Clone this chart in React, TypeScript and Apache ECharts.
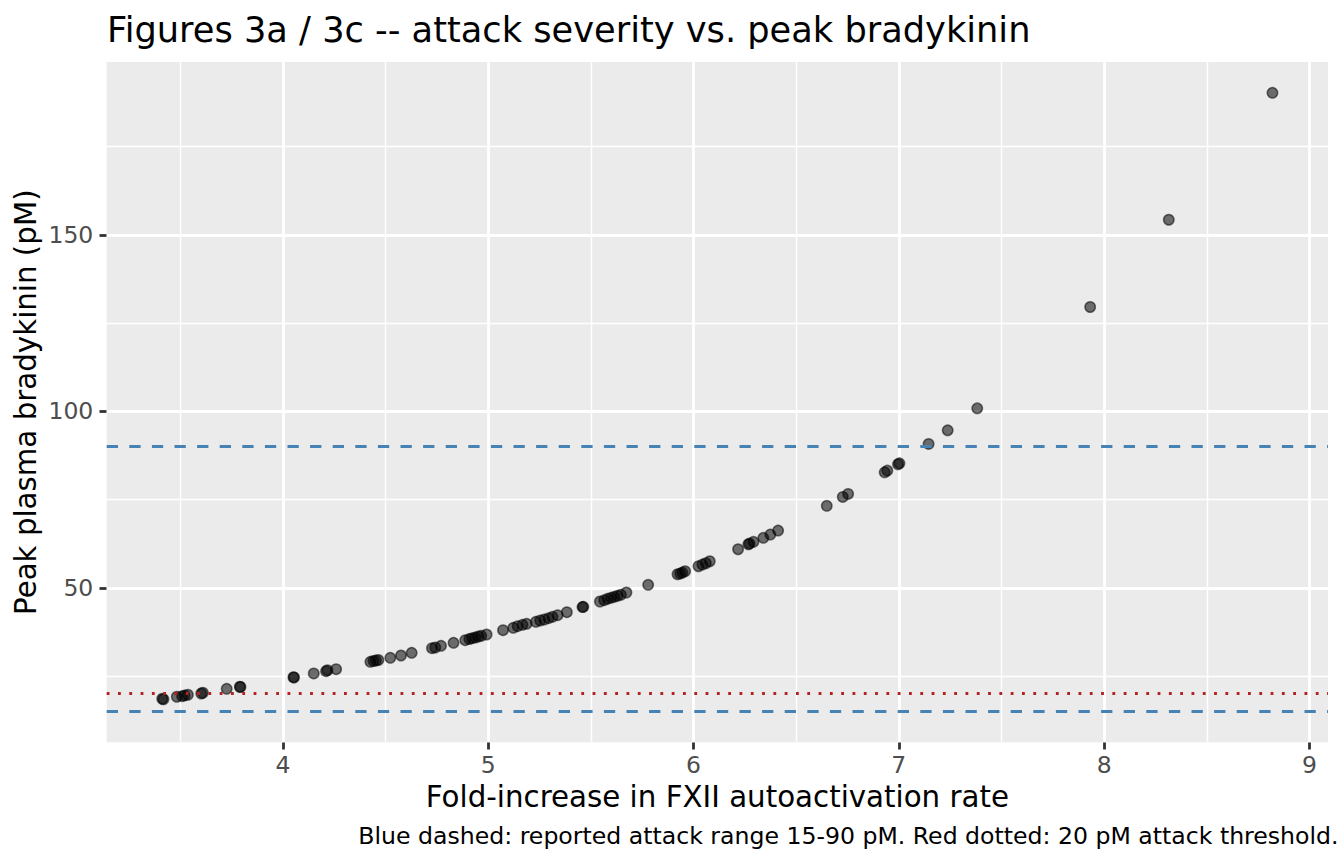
import React, { useEffect, useRef } from "react";
import * as echarts from "echarts";

// Fold-increase in FXII autoactivation rate (x) and peak plasma bradykinin in pM (y)
const foldIncrease = [
  3.412, 3.418, 3.483, 3.509, 3.521, 3.537, 3.602, 3.61, 3.726, 3.79, 3.793,
  4.051, 4.054, 4.15, 4.21, 4.217, 4.259, 4.426, 4.441, 4.453, 4.465, 4.523,
  4.575, 4.627, 4.726, 4.742, 4.77, 4.831, 4.888, 4.908, 4.922, 4.937, 4.952,
  4.966, 4.992, 5.072, 5.122, 5.143, 5.167, 5.187, 5.232, 5.253, 5.273, 5.294,
  5.313, 5.338, 5.383, 5.459, 5.463, 5.544, 5.565, 5.581, 5.598, 5.614, 5.63,
  5.646, 5.673, 5.779, 5.922, 5.935, 5.946, 5.959, 6.024, 6.043, 6.06, 6.079,
  6.217, 6.267, 6.273, 6.292, 6.34, 6.374, 6.412, 6.649, 6.727, 6.753, 6.931,
  6.944, 6.996, 7.003, 7.145, 7.238, 7.382, 7.932, 8.315, 8.82,
];
const peakBradykinin = [
  18.57, 18.43, 19.14, 19.31, 19.51, 19.71, 20.07, 20.27, 21.4, 21.97, 21.91,
  24.69, 24.6, 25.74, 26.39, 26.67, 26.95, 29.05, 29.27, 29.42, 29.56, 30.18,
  30.83, 31.6, 32.9, 33.1, 33.58, 34.43, 35.16, 35.5, 35.73, 35.93, 36.21,
  36.41, 36.78, 38.0, 38.67, 39.13, 39.53, 39.81, 40.37, 40.74, 41.02, 41.39,
  41.79, 42.24, 43.09, 44.56, 44.62, 46.12, 46.49, 46.89, 47.17, 47.45, 47.74,
  48.02, 48.67, 50.85, 53.85, 54.05, 54.33, 54.7, 56.12, 56.6, 56.96, 57.53,
  60.93, 62.34, 62.54, 63.02, 64.16, 65.09, 66.22, 73.22, 75.76, 76.61, 82.73,
  83.21, 85.0, 85.28, 90.77, 94.62, 100.85, 129.56, 154.27, 190.23,
];

const xMajor = [4, 5, 6, 7, 8, 9];
const xMinor = [3.5, 4.5, 5.5, 6.5, 7.5, 8.5];
const yMajor = [50, 100, 150];
const yMinor = [25, 75, 125, 175];
const attackRange = [15, 90];
const attackThreshold = [20];
const xLimits = [3.1415, 9.0905];
const yLimits = [6.24, 198.96];

const TITLE = "Figures 3a / 3c -- attack severity vs. peak bradykinin";
const X_TITLE = "Fold-increase in FXII autoactivation rate";
const Y_TITLE = "Peak plasma bradykinin (pM)";
const CAPTION =
  "Blue dashed: reported attack range 15-90 pM. Red dotted: 20 pM attack threshold.";

export default function App() {
  const ref = useRef<HTMLDivElement>(null);

  useEffect(() => {
    const chart = echarts.init(ref.current as HTMLDivElement, null, {
      renderer: "svg",
    });
    const font = "DejaVu Sans";
    const points = foldIncrease.map((x, i) => [x, peakBradykinin[i]]);

    const gridData = [
      ...xMinor.map((v) => ({ xAxis: v, lineStyle: { color: "#FFFFFF", width: 1.4, type: "solid" } })),
      ...yMinor.map((v) => ({ yAxis: v, lineStyle: { color: "#FFFFFF", width: 1.4, type: "solid" } })),
      ...xMajor.map((v) => ({ xAxis: v, lineStyle: { color: "#FFFFFF", width: 2.8, type: "solid" } })),
      ...yMajor.map((v) => ({ yAxis: v, lineStyle: { color: "#FFFFFF", width: 2.8, type: "solid" } })),
    ];
    const refData = [
      ...attackThreshold.map((v) => ({
        yAxis: v,
        lineStyle: { color: "#B22222", width: 2.8, type: [2.8, 8.5] },
      })),
      ...attackRange.map((v) => ({
        yAxis: v,
        lineStyle: { color: "#4682B4", width: 2.8, type: [11.3, 11.3] },
      })),
    ];

    const axisCommon = {
      type: "value",
      axisLine: { show: false },
      splitLine: { show: false },
      minorSplitLine: { show: false },
    };

    chart.setOption({
      animation: false,
      backgroundColor: "#FFFFFF",
      grid: {
        left: 106.7,
        right: 16,
        top: 62,
        bottom: 121.7,
        show: true,
        backgroundColor: "#EBEBEB",
        borderWidth: 0,
        containLabel: false,
        outerBoundsMode: "none",
      },
      xAxis: {
        ...axisCommon,
        min: xLimits[0],
        max: xLimits[1],
        axisTick: {
          show: true,
          length: 7.2,
          lineStyle: { color: "#333333", width: 2.8 },
          customValues: xMajor,
        },
        axisLabel: {
          customValues: xMajor,
          margin: 22.6,
          verticalAlign: "middle",
          color: "#4D4D4D",
          fontSize: 23.5,
          fontFamily: font,
          formatter: (v: number) => String(v),
        },
      },
      yAxis: {
        ...axisCommon,
        min: yLimits[0],
        max: yLimits[1],
        axisTick: {
          show: true,
          length: 7.2,
          lineStyle: { color: "#333333", width: 2.8 },
          customValues: yMajor,
        },
        axisLabel: {
          customValues: yMajor,
          margin: 13.4,
          verticalAlign: "middle",
          color: "#4D4D4D",
          fontSize: 23.5,
          fontFamily: font,
          formatter: (v: number) => String(v),
        },
      },
      series: [
        {
          type: "scatter",
          data: [],
          silent: true,
          markLine: {
            silent: true,
            symbol: "none",
            z: 1,
            label: { show: false },
            emphasis: { disabled: true },
            data: gridData,
          },
        },
        {
          type: "scatter",
          z: 3,
          silent: true,
          data: points,
          symbol: "circle",
          symbolSize: 10.4,
          itemStyle: {
            color: "rgba(0,0,0,0.68)",
            borderColor: "rgba(0,0,0,0.68)",
            borderWidth: 1.5,
          },
        },
        {
          type: "scatter",
          data: [],
          silent: true,
          z: 4,
          markLine: {
            silent: true,
            symbol: "none",
            z: 4,
            label: { show: false },
            emphasis: { disabled: true },
            data: refData,
          },
        },
      ],
      graphic: [
        {
          type: "text",
          x: 107,
          y: 29.6,
          style: {
            text: TITLE,
            fontFamily: font,
            fontSize: 35.2,
            fill: "#000000",
            align: "left",
            verticalAlign: "middle",
          },
        },
        {
          type: "text",
          x: 717.4,
          y: 796.5,
          style: {
            text: X_TITLE,
            fontFamily: font,
            fontSize: 29.3,
            fill: "#000000",
            align: "center",
            verticalAlign: "middle",
          },
        },
        {
          type: "text",
          x: 26,
          y: 402.2,
          rotation: Math.PI / 2,
          style: {
            text: Y_TITLE,
            fontFamily: font,
            fontSize: 29.3,
            fill: "#000000",
            align: "center",
            verticalAlign: "middle",
          },
        },
        {
          type: "text",
          x: 1338.5,
          y: 836.3,
          style: {
            text: CAPTION,
            fontFamily: font,
            fontSize: 23.6,
            fill: "#000000",
            align: "right",
            verticalAlign: "middle",
          },
        },
      ],
    });

    return () => chart.dispose();
  }, []);

  return (
    <div
      ref={ref}
      style={{ position: "fixed", left: 0, top: 0, width: 1344, height: 864 }}
    />
  );
}
